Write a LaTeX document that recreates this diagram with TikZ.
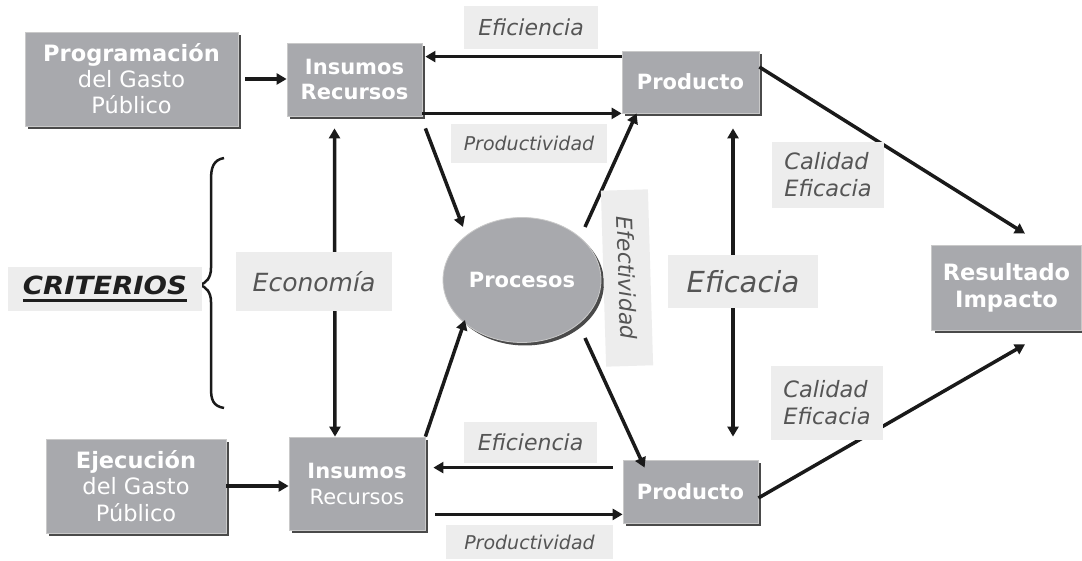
\documentclass[tikz,border=0pt]{standalone}
\usepackage{fontspec}
\setmainfont{DejaVu Sans}
\usetikzlibrary{arrows.meta,shapes.geometric,shadows,calc}
\definecolor{boxgray}{HTML}{A8A9AD}
\definecolor{shadowgray}{HTML}{4A4A4A}
\definecolor{edgegray}{HTML}{C9C9C9}
\definecolor{lblgray}{HTML}{EDEDED}
\definecolor{lbltext}{HTML}{555555}
\definecolor{linecol}{HTML}{1A1A1A}
\newcommand\myul[1]{\setbox0\hbox{#1}\rlap{\rule[-7pt]{\wd0}{2.5pt}}\box0}
\tikzset{
  box/.style={fill=boxgray, draw=edgegray, line width=0.8pt, text=white, align=center, inner sep=0pt,
    drop shadow={shadow xshift=3pt, shadow yshift=-3pt, fill=shadowgray, opacity=1}},
  lbl/.style={fill=lblgray, text=lbltext, align=center, inner sep=0pt},
  arr/.style={draw=linecol, line width=3.5pt, -{Triangle[length=10pt,width=11pt]}},
  darr/.style={draw=linecol, line width=3.5pt, {Triangle[length=10pt,width=11pt]}-{Triangle[length=10pt,width=11pt]}},
  ln/.style={draw=linecol, line width=3.5pt}
}
\begin{document}
\begin{tikzpicture}[x=1pt,y=-1pt]
\useasboundingbox[fill=white] (0,0) rectangle (1082,561);

% boxes
\node[box, minimum width=213pt, minimum height=94pt, font=\fontsize{22.5}{26}\selectfont] (prog) at (131.5,79) {\textbf{Programación}\\del Gasto\\Público};
\node[box, minimum width=135pt, minimum height=73pt, font=\fontsize{21}{25}\selectfont\bfseries] (insT) at (354.5,79.5) {Insumos\\Recursos};
\node[box, minimum width=137pt, minimum height=62pt, font=\fontsize{21}{25}\selectfont\bfseries] (prodT) at (690.5,82) {Producto};
\node[box, minimum width=180pt, minimum height=94pt, font=\fontsize{22.5}{26.5}\selectfont] (ejec) at (136,486) {\textbf{Ejecución}\\del Gasto\\Público};
\node[box, minimum width=136pt, minimum height=93pt, font=\fontsize{21}{26}\selectfont] (insB) at (357,483.5) {\textbf{Insumos}\\Recursos};
\node[box, minimum width=135pt, minimum height=63pt, font=\fontsize{21}{25}\selectfont\bfseries] (prodB) at (690.5,491.5) {Producto};
\node[box, minimum width=150pt, minimum height=85pt, font=\fontsize{22.5}{27}\selectfont\bfseries] (res) at (1006.5,287.5) {Resultado\\Impacto};
\node[box, ellipse, minimum width=158pt, minimum height=125pt, font=\fontsize{21}{25}\selectfont\bfseries] (proc) at (522,280) {Procesos};

% connectors
\draw[arr] ($(prog.east)+(7,0)$) -- (prog.east -| insT.west);
\draw[arr] (ejec.east) -- (ejec.east -| insB.west);
\draw[arr] ($(prodT.north west)+(0,6)$) -- ($(prodT.north west -| insT.east)+(3,6)$);
\draw[arr] ($(insT.south east)+(0,-3)$) -- ($(insT.south east -| prodT.west)+(0,-3)$);
\draw[arr] ($(prodB.north west)+(-10,8)$) -- ($(prodB.north west -| insB.east)+(8,8)$);
\draw[arr] ($(prodB.south west -| insB.east)+(10,-9)$) -- ($(prodB.south west)+(0,-9)$);
\draw[arr] ($(insT.south east)+(3,12)$) -- ($(proc.center)+(-59,-53)$);
\draw[arr] ($(proc.center)+(63,-53)$) -- ($(prodT.south west)+(15,0)$);
\draw[arr] (insB.north east) -- ($(proc.center)+(-57,40)$);
\draw[arr] ($(proc.center)+(63,58)$) -- ($(prodB.north west)+(22,8)$);
\draw[arr] ($(prodT.east)+(0,-15)$) -- ($(res.north)+(18.5,-11)$);
\draw[arr] ($(prodB.east)+(0,6.5)$) -- ($(res.south)+(18.5,14)$);
\draw[darr] ($(insT.south)+(-20,12)$) -- ($(insB.north)+(-22,0)$);
\draw[darr] ($(prodT.south)+(42.5,15)$) -- ($(prodB.north)+(42.5,-23)$);

% brace
\draw[draw=linecol, line width=2.5pt] (224,158) .. controls (213,160) and (211,168) .. (211,180) -- (211,268) .. controls (211,278) and (206,283) .. (200,285) .. controls (206,287) and (211,292) .. (211,302) -- (211,388) .. controls (211,400) and (213,406) .. (224,408);

% labels
\node[lbl, minimum width=134pt, minimum height=43pt, font=\fontsize{22}{26}\selectfont\itshape] (effT) at (531,27.5) {Eficiencia};
\node[lbl, minimum width=156pt, minimum height=39pt, font=\fontsize{19}{23}\selectfont\itshape] (prodvT) at (529,143.5) {Productividad};
\node[lbl, minimum width=194pt, minimum height=44pt, text={black!88}, font=\fontsize{25}{29}\selectfont\bfseries\itshape] (crit) at (105,289) {\myul{\resizebox{164pt}{\height}{CRITERIOS}}};
\node[lbl, minimum width=156pt, minimum height=59pt, font=\fontsize{25}{29}\selectfont\itshape] (econ) at (314,281.5) {Economía};
\node[lbl, rotate=-88.3, minimum width=176pt, minimum height=47pt, font=\fontsize{22}{26}\selectfont\itshape] (efec) at (627,278) {Efectividad};
\node[lbl, minimum width=150pt, minimum height=53pt, font=\fontsize{29}{33}\selectfont\itshape] (efic) at (743,281.5) {Eficacia};
\node[lbl, minimum width=112pt, minimum height=66pt, align=left, font=\fontsize{22.5}{27}\selectfont\itshape] (calT) at (828,175) {Calidad\\Eficacia};
\node[lbl, minimum width=112pt, minimum height=74pt, align=left, font=\fontsize{22.5}{27}\selectfont\itshape] (calB) at (827,403) {Calidad\\Eficacia};
\node[lbl, minimum width=133pt, minimum height=41pt, font=\fontsize{22}{26}\selectfont\itshape] (effB) at (530.5,442.5) {Eficiencia};
\node[lbl, minimum width=167pt, minimum height=34pt, font=\fontsize{19}{23}\selectfont\itshape] (prodvB) at (529.5,542) {Productividad};
\end{tikzpicture}
\end{document}
